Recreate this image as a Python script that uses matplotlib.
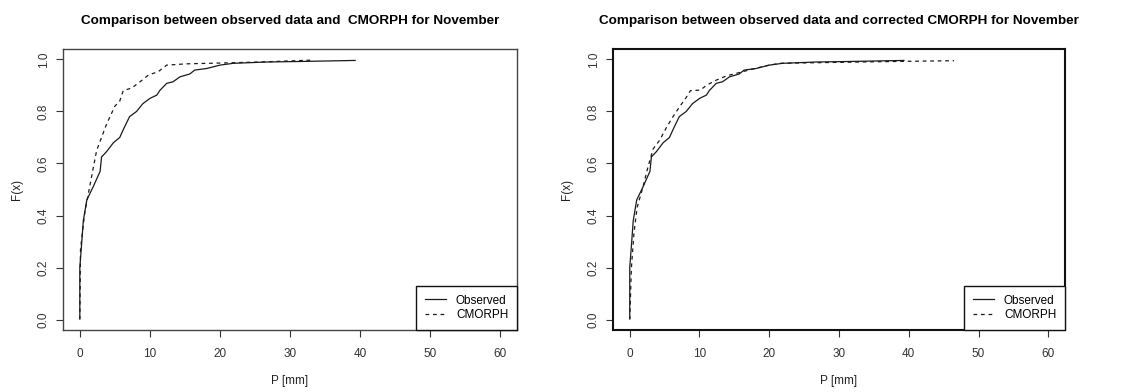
import matplotlib
matplotlib.use("Agg")
import matplotlib.pyplot as plt

plt.rcParams['font.family'] = ['Liberation Sans', 'DejaVu Sans']

# Observed ECDF (same in both panels)
obs_x = [0.0, 0.0, 0.2, 0.5, 1.0, 1.9, 2.9, 3.1, 3.8, 4.8, 5.7, 6.2, 7.1, 8.1, 9.0,
         10.0, 11.0, 11.4, 12.4, 13.3, 14.3, 15.7, 16.4, 18.1, 20.0, 21.9, 26.7, 31.4, 39.3]
obs_F = [0.004, 0.20, 0.27, 0.38, 0.46, 0.51, 0.57, 0.625, 0.645, 0.68, 0.70, 0.73, 0.78, 0.80, 0.83,
         0.85, 0.863, 0.88, 0.908, 0.914, 0.933, 0.944, 0.959, 0.965, 0.978, 0.985, 0.99, 0.992, 0.996]

# Raw CMORPH ECDF (left panel)
cm_x = [0.0, 0.1, 0.7, 1.4, 2.4, 3.8, 5.0, 5.7, 6.2, 7.4, 8.6, 9.8, 11.2, 12.4, 15.2, 20.0, 25.7, 32.9]
cm_F = [0.0, 0.27, 0.41, 0.51, 0.65, 0.75, 0.82, 0.84, 0.88, 0.89, 0.914, 0.94, 0.953, 0.978, 0.983, 0.986, 0.99, 0.997]

# Corrected CMORPH ECDF (right panel)
cc_x = [0.0, 0.24, 0.6, 1.05, 1.9, 2.6, 3.35, 4.3, 5.3, 6.2, 7.2, 8.1, 8.7, 10.1, 11.0,
        12.2, 13.9, 15.8, 17.2, 19.6, 21.6, 28.3, 37.9, 46.5]
cc_F = [0.0, 0.20, 0.33, 0.43, 0.51, 0.585, 0.656, 0.69, 0.74, 0.78, 0.82, 0.854, 0.88, 0.882, 0.90,
        0.918, 0.937, 0.95, 0.96, 0.976, 0.985, 0.988, 0.992, 0.995]

titles = ["Comparison between observed data and  CMORPH for November",
          "Comparison between observed data and corrected CMORPH for November"]
xticks = [0, 10, 20, 30, 40, 50, 60]
yticks = [0.0, 0.2, 0.4, 0.6, 0.8, 1.0]
legend_labels = ["Observed", "CMORPH"]

W, H = 1125, 392
fig = plt.figure(figsize=(W / 100, H / 100), dpi=100)
ax1 = fig.add_axes([63 / W, 1 - 330 / H, 454 / W, 281 / H])
ax2 = fig.add_axes([613 / W, 1 - 330 / H, 452 / W, 281 / H])

lc = '#1a1a1a'
for ax, (sx, sF), title, slw, scol in [(ax1, (cm_x, cm_F), titles[0], 1.0, '#444444'),
                                       (ax2, (cc_x, cc_F), titles[1], 1.5, '#111111')]:
    ax.plot(obs_x, obs_F, color=lc, lw=0.9, label=legend_labels[0])
    ax.plot(sx, sF, color=lc, lw=0.9, dashes=(3, 3), label=legend_labels[1])
    ax.set_xlim(-2.4, 62.4)
    ax.set_ylim(-0.04, 1.04)
    ax.set_xticks(xticks)
    ax.set_yticks(yticks)
    ax.set_xticklabels([str(t) for t in xticks])
    ax.set_yticklabels(["%.1f" % t for t in yticks], rotation=90, va='center')
    ax.tick_params(axis='both', direction='out', length=5, width=0.8, colors='#333333',
                   labelsize=8.5)
    ax.tick_params(axis='x', pad=8)
    ax.tick_params(axis='y', pad=4.5)
    for sp in ax.spines.values():
        sp.set_linewidth(slw)
        sp.set_color(scol)
    ax.set_title(title, fontsize=9.7, fontweight='bold', pad=18)
    ax.set_xlabel("P [mm]", fontsize=8.5, color='#222222')
    ax.set_ylabel("F(x)", fontsize=8.5, color='#222222')
    ax.xaxis.set_label_coords(0.5, -0.16)
    ax.yaxis.set_label_coords(-0.088, 0.5)
    leg = ax.legend(loc='lower right', bbox_to_anchor=(1, 0), borderaxespad=0,
                    fontsize=8.5, fancybox=False, framealpha=1, edgecolor='#111111',
                    handlelength=1.8, handletextpad=0.85, borderpad=0.75, labelspacing=0.22)
    leg.get_frame().set_linewidth(1.0)

fig.savefig("out.png", dpi=100)
